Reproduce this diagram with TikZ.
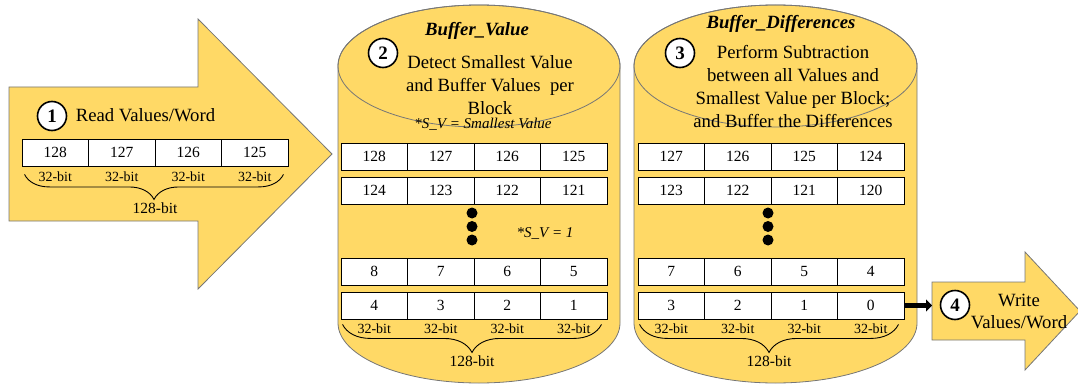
\documentclass[tikz,border=0pt]{standalone}
\usepackage{fontspec}
\setmainfont{Liberation Serif}
\usetikzlibrary{decorations.pathreplacing,arrows.meta}

\definecolor{blockfill}{HTML}{FFD966}
\definecolor{blockline}{HTML}{767676}

\tikzset{
    block/.style={fill=blockfill, draw=blockline, line width=0.8pt},
    cell/.style={draw, fill=white, line width=0.9pt, minimum width=66.5pt, minimum height=27pt, inner sep=0pt, font=\fontsize{15.5}{18}\selectfont},
    stepnum/.style={circle, draw, fill=white, line width=1.6pt, minimum size=29pt, inner sep=0pt, font=\fontsize{19}{20}\selectfont\bfseries},
    txt/.style={font=\fontsize{18.7}{23}\selectfont, align=center},
    title/.style={font=\fontsize{18.7}{22}\selectfont\bfseries\itshape},
    note/.style={font=\fontsize{15}{18}\selectfont\itshape},
    bits/.style={font=\fontsize{14}{16}\selectfont},
    wordbits/.style={font=\fontsize{15.5}{18}\selectfont},
    bitbrace/.style={decorate, decoration={brace, mirror, amplitude=#1}, line width=0.9pt},
    bitbrace/.default=25pt,
    dot/.style={circle, fill=black, inner sep=0pt, minimum size=11pt}
}

\begin{document}
\begin{tikzpicture}[x=1pt, y=-1pt]
    \useasboundingbox (0,0) rectangle (1078,385);

    % read arrow
    \draw[block] (9,87) -- (198,87) -- (198,19) -- (332,154) -- (198,289) -- (198,221) -- (9,221) -- cycle;

    % buffers
    \draw[block] (338,66) -- (338,323) arc[start angle=180, end angle=360, x radius=141pt, y radius=60pt]
        -- (620,66) arc[start angle=0, end angle=180, x radius=141pt, y radius=61pt] -- cycle;
    \draw[draw=blockline, line width=0.8pt] (479,66) ellipse[x radius=141pt, y radius=61pt];
    \draw[block] (634,66) -- (634,323) arc[start angle=180, end angle=360, x radius=141.5pt, y radius=60pt]
        -- (917,66) arc[start angle=0, end angle=180, x radius=141.5pt, y radius=61pt] -- cycle;
    \draw[draw=blockline, line width=0.8pt] (775.5,66) ellipse[x radius=141.5pt, y radius=61pt];

    % write arrow
    \draw[block] (932,282) -- (1025,282) -- (1025,252) -- (1080,311) -- (1025,370) -- (1025,340) -- (932,340) -- cycle;
    \coordinate (wr) at (932,305.5);

    % step 1
    \node[stepnum] (n1) at (52,116) {1};
    \node[txt] (read) at (145.5,115) {Read Values/Word};
    \foreach \v [count=\c] in {128,127,126,125} {
        \node[cell] (word-\c) at (22+66.5*\c-33.25,152.5) {\v};
        \node[bits] (wbit-\c) at ([yshift=-10pt]word-\c.south) {32-bit};
    }
    \draw[bitbrace] ([xshift=3pt,yshift=-8pt]word-1.south west) -- ([xshift=-5pt,yshift=-8pt]word-4.south east);
    \node[wordbits] (wword) at (155,208) {128-bit};

    % step 2
    \node[title] (vtitle) at (477,31) {Buffer\_Value};
    \node[stepnum] (n2) at (383,53) {2};
    \node[txt] (detect) at (490,85) {Detect Smallest Value\\and Buffer Values \ per\\Block};
    \node[note] (sv) at (483,124.5) {*S\_V = Smallest Value};
    \foreach \r/\y/\vals in {1/156.5/{128,127,126,125}, 2/190.5/{124,123,122,121},
                             3/271.5/{8,7,6,5}, 4/305.5/{4,3,2,1}} {
        \foreach \v [count=\c] in \vals
            \node[cell] (val-\r-\c) at (341+66.5*\c-33.25,\y) {\v};
    }
    \foreach \y [count=\i] in {213,226.5,240}
        \node[dot] (vdot-\i) at (472,\y) {};
    \node[note] (sv1) at (545,233) {*S\_V = 1};
    \foreach \c in {1,...,4}
        \node[bits] (vbit-\c) at ([yshift=-9.5pt]val-4-\c.south) {32-bit};
    \draw[bitbrace=28pt] ([xshift=2pt,yshift=-5pt]val-4-1.south west) -- ([xshift=-6pt,yshift=-5pt]val-4-4.south east);
    \node[wordbits] (vword) at (472,361) {128-bit};

    % step 3
    \node[title] (dtitle) at (781,24) {Buffer\_Differences};
    \node[stepnum] (n3) at (680,53) {3};
    \node[txt] (subtract) at (793,86.5) {Perform Subtraction\\between all Values and\\Smallest Value per Block;\\and Buffer the Differences};
    \foreach \r/\y/\vals in {1/156.5/{127,126,125,124}, 2/190.5/{123,122,121,120},
                             3/271.5/{7,6,5,4}, 4/305.5/{3,2,1,0}} {
        \foreach \v [count=\c] in \vals
            \node[cell] (dif-\r-\c) at (638+66.5*\c-33.25,\y) {\v};
    }
    \foreach \y [count=\i] in {213,226.5,240}
        \node[dot] (ddot-\i) at (768,\y) {};
    \foreach \c in {1,...,4}
        \node[bits] (dbit-\c) at ([yshift=-9.5pt]dif-4-\c.south) {32-bit};
    \draw[bitbrace=28pt] ([xshift=2pt,yshift=-5pt]dif-4-1.south west) -- ([xshift=-6pt,yshift=-5pt]dif-4-4.south east);
    \node[wordbits] (dword) at (769,361) {128-bit};

    % step 4
    \draw[line width=5pt, -{Triangle[length=6pt,width=12pt]}] (dif-4-4.east) -- (wr);
    \node[stepnum] (n4) at (955,305) {4};
    \node[txt, font=\fontsize{18.7}{22}\selectfont] (write) at (1019,311) {Write\\Values/Word};
\end{tikzpicture}
\end{document}
